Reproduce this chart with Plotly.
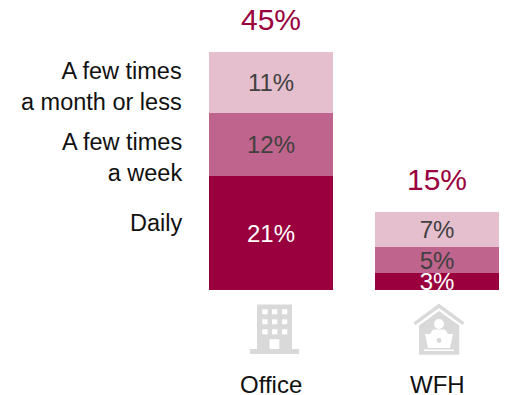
import plotly.graph_objects as go

W, H = 505, 395
FONT = "Liberation Sans"
categories = ["Office", "WFH"]
daily = [21.5, 3.2]
weekly = [11.9, 4.9]
monthly = [11.5, 6.6]
daily_labels = ["21%", "3%"]
weekly_labels = ["12%", "5%"]
monthly_labels = ["11%", "7%"]
total_labels = ["45%", "15%"]
row_labels = ["A few times<br>a month or less", "A few times<br>a week", "Daily"]
row_anchor = [38.5, 25.0, 12.7]

fig = go.Figure()
series = [
    ("Daily", daily, daily_labels, "#99003D", "#FFFFFF"),
    ("A few times a week", weekly, weekly_labels, "#BF648C", "#404040"),
    ("A few times a month or less", monthly, monthly_labels, "#E6BFCF", "#404040"),
]
for name, vals, labs, col, tc in series:
    fig.add_bar(x=categories, y=vals, name=name, text=labs, marker=dict(color=col, line_width=0),
                textposition="inside", insidetextanchor="middle", textangle=0,
                constraintext="none", cliponaxis=False,
                textfont=dict(family=FONT, size=24, color=tc), showlegend=False)

# total labels above the stacks
stack_tops = [a + b + c for a, b, c in zip(daily, weekly, monthly)]
ann = []
for c, t, lab in zip(categories, stack_tops, total_labels):
    ann.append(dict(x=c, y=t, xref="x", yref="y", text=lab, showarrow=False, yanchor="bottom",
                    yshift=14, font=dict(family=FONT, size=30, color="#99003D")))
for lab, yv in zip(row_labels, row_anchor):
    ann.append(dict(x=-0.523, y=yv, xref="x", yref="y", text=lab, showarrow=False, xanchor="right",
                    align="right", font=dict(family=FONT, size=23.5, color="#111111")))
for c in categories:
    ann.append(dict(x=c, y=0, xref="x", yref="y", text=c, showarrow=False, yanchor="middle", yshift=-94,
                    font=dict(family=FONT, size=24, color="#111111")))

# icons, drawn in pixel space of the page
GR = "#D9D9D9"
def X(p): return p / W
def Y(p): return 1 - p / H
shapes = []
def rect(x0, y0, x1, y1, col=GR):
    shapes.append(dict(type="rect", xref="paper", yref="paper", x0=X(x0), x1=X(x1), y0=Y(y0), y1=Y(y1),
                       fillcolor=col, line_width=0, layer="above"))
def circ(cx, cy, r, col=GR):
    rx, ry = r / W, r / H
    shapes.append(dict(type="circle", xref="paper", yref="paper", x0=X(cx) - rx, x1=X(cx) + rx,
                       y0=Y(cy) - ry, y1=Y(cy) + ry, fillcolor=col, line_width=0, layer="above"))
def poly(pts, col=GR):
    d = "M " + " L ".join(f"{X(a):.5f} {Y(b):.5f}" for a, b in pts) + " Z"
    shapes.append(dict(type="path", xref="paper", yref="paper", path=d, fillcolor=col, line_width=0, layer="above"))

# office building
rect(250, 349, 299, 354)
rect(257, 304.5, 292, 349)
for wy in (309.3, 319.3, 329.3):
    for wx in (262.3, 272, 282):
        rect(wx, wy, wx + 5.3, wy + 5, "#FFFFFF")
rect(269.5, 339.3, 279.3, 349, "#FFFFFF")

# house with remote worker
poly([(439, 303.5), (464.5, 322.5), (462.5, 325), (439, 308), (415.5, 325), (413.5, 322.5)])
poly([(439, 311), (459.3, 325.5), (459.3, 354.7), (419, 354.7), (419, 325.5)])
circ(439, 324, 5, "#FFFFFF")
poly([(430, 334), (433, 329.5), (445, 329.5), (448, 334)], "#FFFFFF")
poly([(425, 334), (453, 334), (450, 348), (428, 348)], "#FFFFFF")
circ(439, 340.5, 2.4, GR)
rect(424, 349.5, 454, 351, "#FFFFFF")

fig.update_layout(
    width=W, height=H, barmode="stack", bargap=0.253,
    margin=dict(l=0, r=0, t=0, b=0), paper_bgcolor="white", plot_bgcolor="white",
    xaxis=dict(type="category", range=[-1.6325, 1.4096], visible=False),
    yaxis=dict(range=[-105 / 5.29, 290 / 5.29], visible=False, fixedrange=True),
    annotations=ann, shapes=shapes,
)
fig.write_html("out.html", config=dict(displayModeBar=False),
               post_script="document.body.style.margin='0';document.documentElement.style.overflow='hidden';")
